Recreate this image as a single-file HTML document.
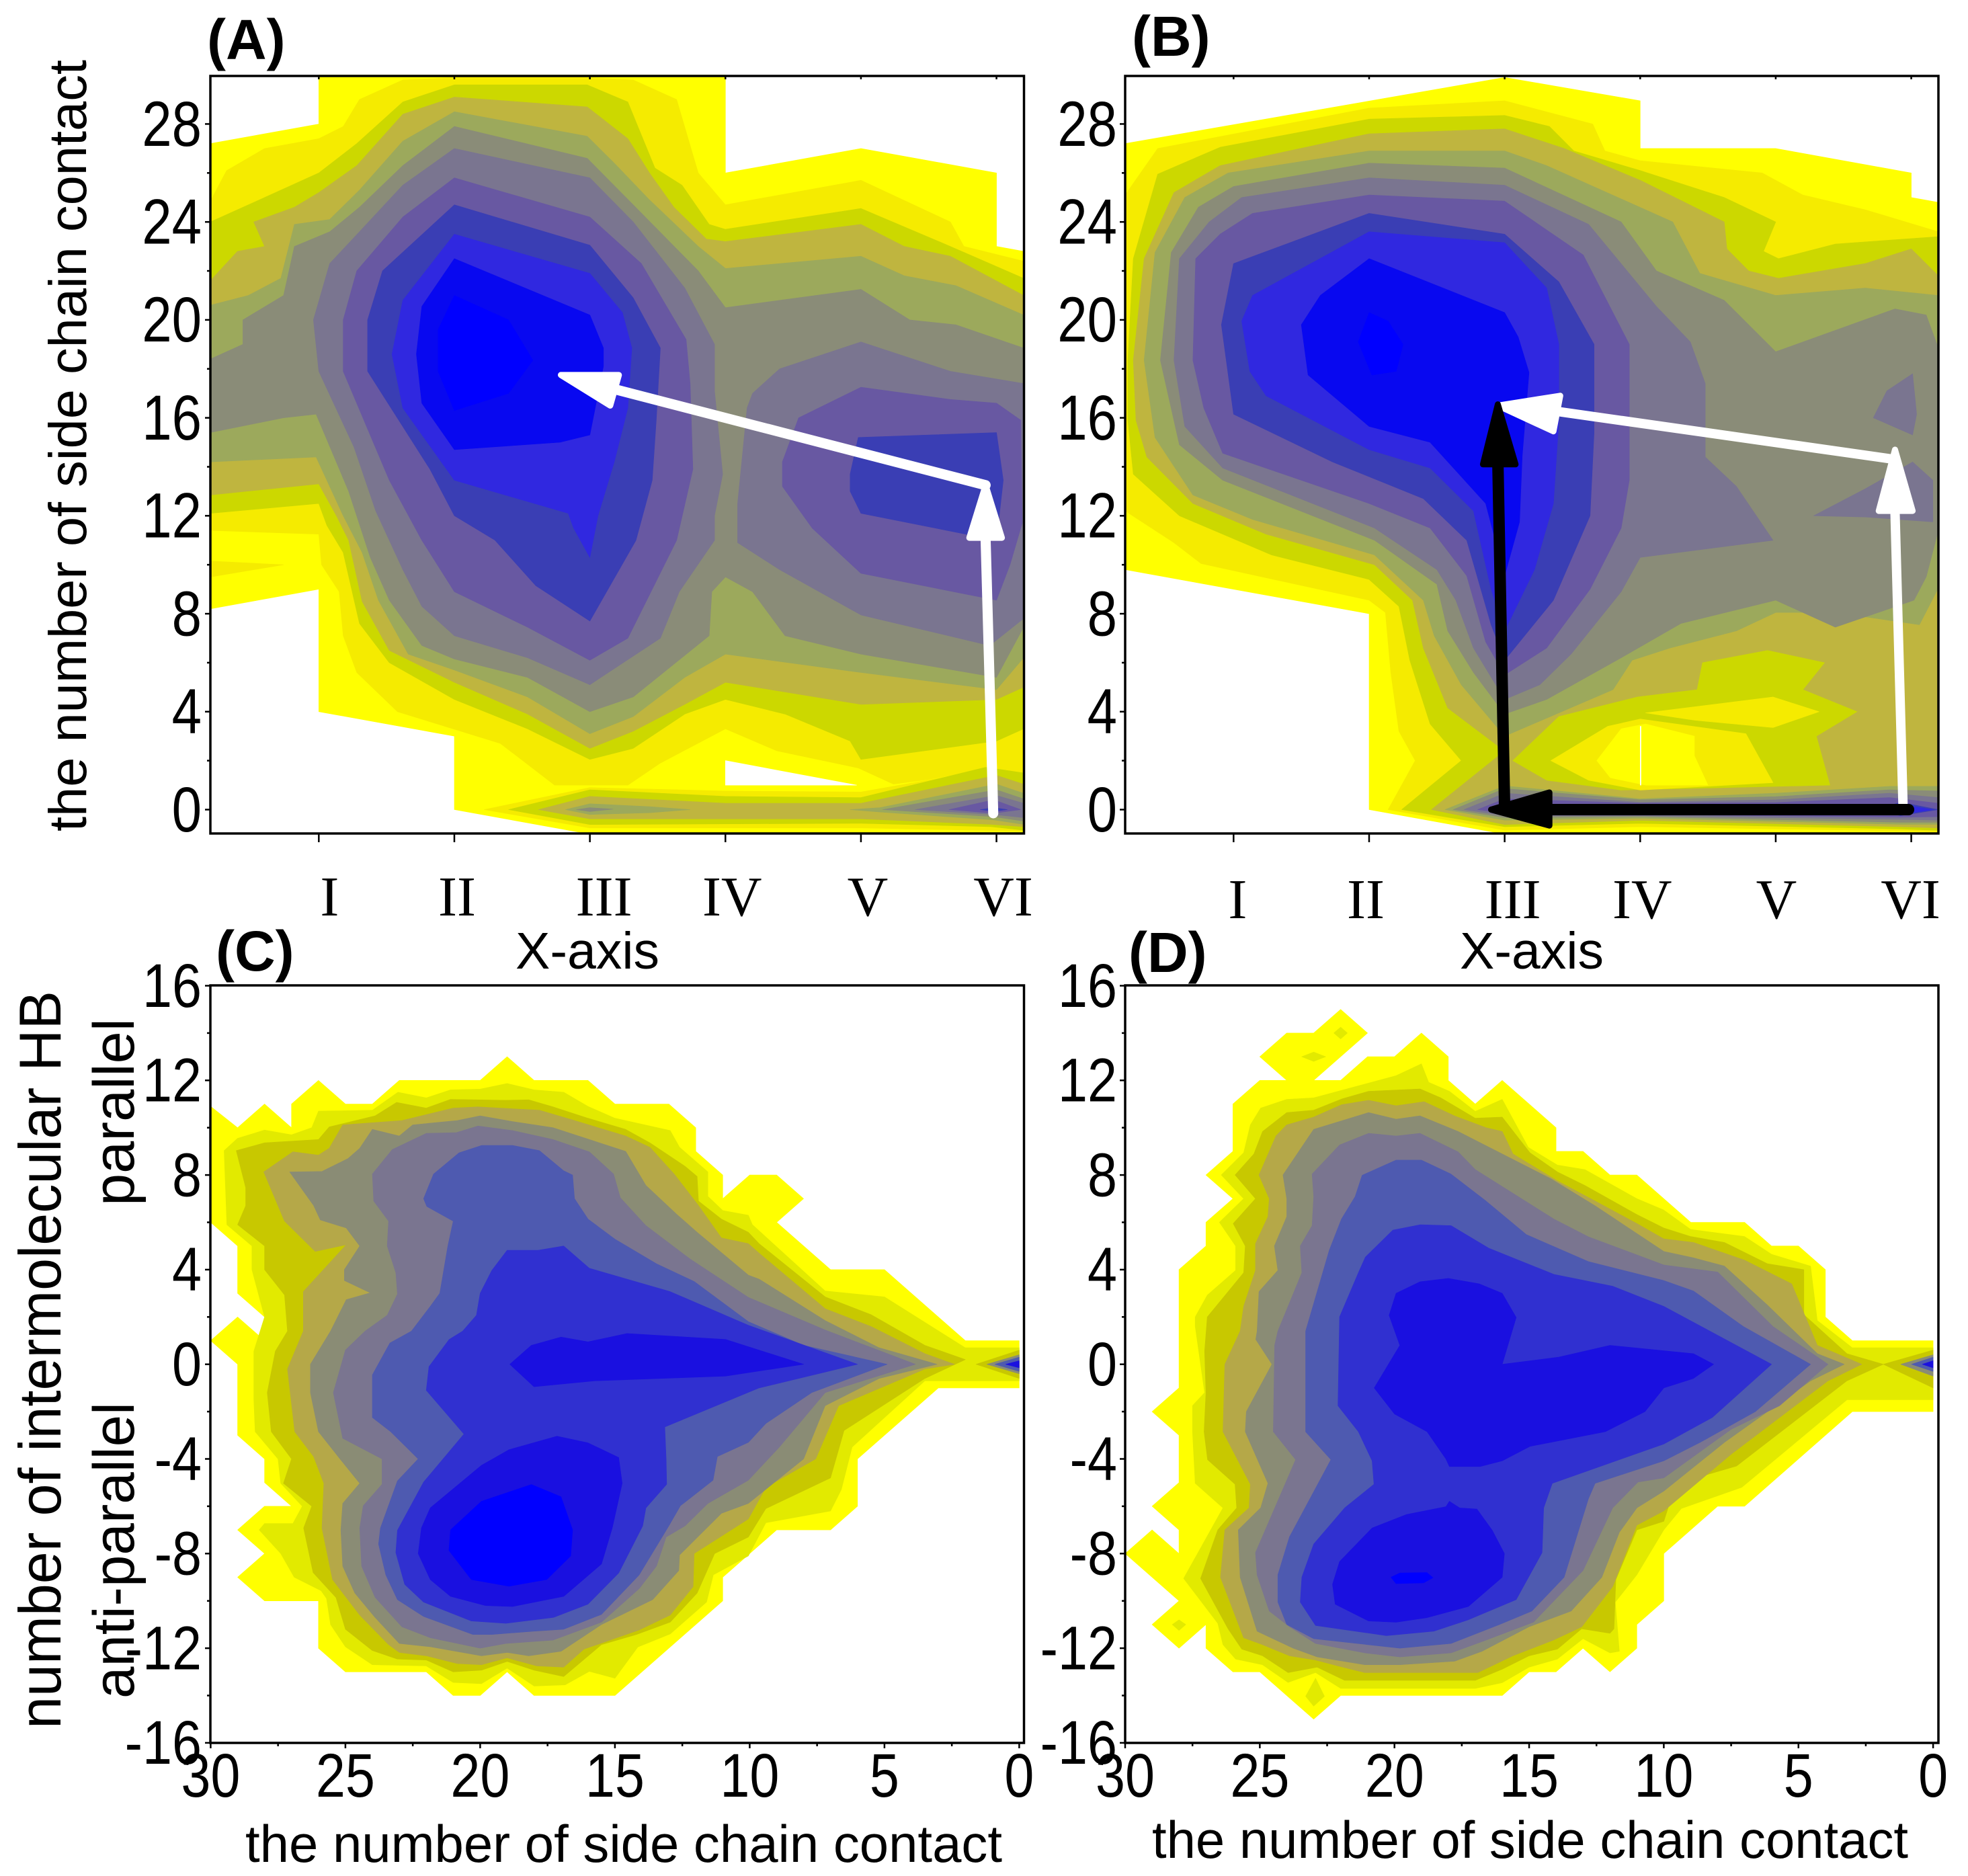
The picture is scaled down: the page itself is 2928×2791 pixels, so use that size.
<!DOCTYPE html>
<html lang="en">
<head>
<meta charset="utf-8">
<title>Contour panels A-D</title>
<style>
html,body{margin:0;padding:0;background:#fff}
svg{display:block}
text{font-family:"Liberation Sans",sans-serif;fill:#000}
</style>
</head>
<body>
<svg id="fig" xmlns="http://www.w3.org/2000/svg" width="2928" height="2791" viewBox="0 0 2928 2791"></svg>
<script>
const categories=['I','II','III','IV','V','VI'];
const yTicksTop=[0,4,8,12,16,20,24,28];
const yTicksBottom=[-16,-12,-8,-4,0,4,8,12,16];
const xTicksBottom=[30,25,20,15,10,5,0];
const palTop=['#ffff00','#f5eb00','#ccd800','#bfb53f','#9ca95c','#8a8c78','#7a7590','#6858a2','#3a3eb4','#3028e0','#0808f0','#0000ff'];
const palBottom=['#ffff00','#e2ea00','#c8c800','#b5a848','#8a8c75','#7a7590','#4e5ab0','#3030d0','#1a10e0','#0000ff'];

/* Panel A contour rings: flat x,y lists in data units */
const A0=[[0,27.2,4,28,4,30,19,30,19,26,24,27,29,26,29,23,30,22.8,30,-1,14,-1,9,0,9,3,4,4,4,9,0,8.2]];
const Ahole=[[19,2,23.84,1,19,1]];
const A1=[[0,24.85,.6,26.1,2,27,4,27.4,4.9,27.9,5.5,29,7.1,29.8,9,29.9,13.9,29.9,15.6,29.8,17.2,29,18,26,19,24.7,24,25.7,27.3,24,27.8,23,30,22.4,30,1.9,26.3,1.2,25.2,1.04,23.9,1.7,20.9,2.4,19,3.3,16.6,1.9,15.4,1,12.7,1,10.7,2.7,6.9,4,5.4,5.6,4.9,7.1,4.75,8.9,4.1,10,4,11.25,0,11.4],
[10.1,0,14,.9,19,.76,24,.72,30,1.9,30,-.88,24,-.75,14,-.75],
[0,10.15,2.7,10,0,9.5]];
const A2=[[0,24,2,25,4,26,5.4,27.2,7.1,28.9,9,29.6,13.9,29.6,15.4,28.9,16.4,26.2,17.4,25.5,18.4,23.9,19,23.7,24,24.55,27.3,23,30,21.7,30,3.3,29,2.8,24,2.05,23.6,2.8,21.2,3.9,19,4.5,17.5,3.9,15.6,2.5,14,2.05,11.7,3.3,9,4.5,6.6,6,5.5,7.6,4.9,10.5,4.3,11.6,4,12.5,0,12.1],
[11,0,14,.81,19,.54,24,.49,28.6,1.73,30,1.5,30,-.84,28.8,-.7,24,-.56,14,-.61]];
const A3=[[0,21.6,1,22.8,2,23,1.6,24,3.1,24.6,4,25.2,5.4,26.3,7.1,28.4,9,29.1,13.9,28.7,15.4,27.4,16.2,26,17.1,24.6,18.3,23.3,19,23.2,24,23.9,25.6,23,27.3,22.6,30,21,30,5,29,4.5,24,4.3,19,5.2,17.5,4.3,15.6,3.2,14,2.5,11.7,3.9,9,5.2,6.6,6.5,5.6,8.5,5.1,11,4.65,12,4,13.3,0,12.85],
[12.1,0,14,.54,19,.26,24,.26,29,1.4,30,1.04,30,-.7,28.8,-.6,24,-.38,14,-.38]];
const A4=[[0,20.6,1.4,21,2.6,21.7,3.1,23.9,4.4,24.1,5.5,25.3,7.1,27.3,9,28.5,13.9,27.5,14.9,26.4,16.2,24.9,18,23,19,22.1,24,22.6,25.6,21.8,27.5,21.4,30,20.2,30,6.2,29,4.9,24,5.6,19,6.35,17.5,5.4,15.6,3.8,14,3.1,11.7,4.6,9,5.7,7.3,6.35,6.2,8.55,5.6,10.5,4.9,12,3.9,14.4,0,14.2],
[13.1,0,14,.24,16.2,.12,17.7,0,16.2,-.13,14,-.2],
[23.6,0,24.7,.08,29,1.04,30,.67,30,-.6,28.9,-.42,24.7,-.1]];
const A5=[[0,18.4,1.2,19,1.2,20,2.7,21,3.1,23,4.4,23.6,5.5,24.6,7.1,26.3,9,27.9,13.9,26.6,15.6,24.7,18,22,19,20.5,24,21.25,25.8,20,27.5,19.8,30,18.85,30,7.45,29,5.4,24,6.35,21.2,7.1,20,8.9,19,9.5,18.5,8.9,18.4,7.1,15.6,4.6,14,4,11.7,5.4,9,6.15,7.8,6.7,6.6,8.55,5.9,10.3,5.1,13,3.9,16.15,2.7,16,0,15.4],
[13.5,0,14,.08,14.85,.02,14,-.08],
[24.8,0,29,.81,30,.44,30,-.47,28.9,-.29]];
const A6=[[3.8,20,4.4,22.3,5.5,23.6,7.1,25.5,9,27,14,25.8,15.6,24,17.5,21.3,18.6,19,18.6,17.1,18.9,13.7,18.6,12,18.6,11,17.3,8.9,16.6,7,14,5.1,11.7,6.2,9,7.1,7.8,8.3,7.1,9.8,6.1,12.2,5.3,14.8,4,17.9],
[19.8,16.4,20,17,21,18,24,19.1,27.3,17.9,30,17.4,30,7.8,28.75,6.7,24,7.95,21,9.8,19.45,10.9,19.45,12.5],
[26,0,29,.58,30,.26,30,-.33,28.9,-.2]];
const A7=[[4.9,20,5.4,22,7.1,24.2,9,25.8,14,24.2,15.9,22.3,17.55,19.2,17.7,17.4,17.8,13.9,17.2,11,15.4,7,14,6.1,11.7,7.45,9,8.9,7.8,11,6.6,13.45,4.9,17.9],
[21.1,13.2,21.1,14.2,21.7,16,24,17.25,27.3,16.75,29,16.6,29.9,15.9,29.95,11.7,29.5,10,29,8.55,24,9.65,22.2,11.5],
[27.25,0,28.9,.4,29.9,0,28.9,-.15]];
const A8=[[5.8,20,6.35,22,9,24.7,14,23.05,15.6,20.9,16.6,18.85,16.45,15.9,16.3,13.45,15.7,11,14,7.7,12,9.15,10.5,11,9,12,8.1,13.9,5.8,17.9],
[23.6,13.7,23.9,15.2,29,15.4,29.25,13.45,29,11,24,12.1,23.6,13],
[28.4,0,28.9,.08,29.4,0,28.9,-.07]];
const A9=[[6.7,18.6,7.1,20.8,9,23.5,14,21.9,15.2,20.3,15.55,18.85,15.4,16.4,14.9,14.2,14.3,12,14,10.3,13.4,11.5,13.2,12.1,9,13.45,7.1,16.4]];
const A10=[[7.6,18.6,7.8,20.55,9,22.5,14,20.2,14.5,18.85,14.5,18.1,14,15.3,12.9,15,9,14.7,7.8,16.6]];
const A11=[[8.4,19.6,9,21,11,20,11.9,18.35,11,17,9,16.3,8.4,17.9]];

/* Panel B contour rings */
const B0=[[0,27.2,14,29.9,19,28.95,19,27,24,27,29,26,29,25,30,24.8,30,-1,14,-1,9,0,9,8,0,9.8]];
const B1=[[0,25.1,1.2,27,9,28.65,14,28.95,17.25,28,17.7,26.9,19,26.5,23.5,26,25,25.1,27.3,24.5,30,23.6,30,-.9,28.6,-.87,19,-.7,14,-.84,9.7,0,10.7,2,10.1,3.2,9.8,5.6,9.6,8.05,9,8.55,2.8,10.05,1.8,10.9,0,12.2]];
const B2=[[.1,18.35,.3,22.5,1.2,25.95,3.5,27.05,9,28.2,14,28.35,15.65,27.9,16.55,26.9,19,26.1,22.1,25,24,24,23.55,22.8,24.1,22.5,26.2,23.1,30,23.4,30,-.85,28.6,-.79,19,-.56,14,-.7,10.2,0,12.4,2,11.25,3.5,10.5,6.1,10.1,8.3,9,9.4,5.4,10.4,2,12,.3,13.7,.1,15.9]];
const B3=[[.3,18.35,.7,22.5,1.8,25.2,3.5,26.3,9,27.6,14,27.8,16.2,27,19,25.7,22.1,24,22.2,22.9,23,22,24.1,21.7,27.3,22.3,29,22.9,30,21.8,30,-.75,28.6,-.7,19,-.44,14,-.61,11.3,0,14,2.4,11.9,4.15,11,6.6,10.6,8.55,9.2,10,5.2,11.25,2.5,12.5,.8,14.4,.4,15.9]];
const Bisland2=[[14.3,2,16,3.8,18.9,4.6,21.1,4.9,21.3,6,23.7,6.5,25.8,6,25,4.9,27,4,25.5,3,26,1,18.3,.8,15.55,1.2]];
const Bisland1=[[15.7,2,17.8,3.4,19,3.7,22.9,3.1,23.9,1.1,19,.8,17.1,1.2],[19.2,3.95,23.9,4.6,25.6,4,23.9,3.35,21,3.65]];
const Bisland0=[[17.4,2,18.3,3.3,19.2,3.5,21,3,21,2.2,21.5,1,19.2,1,17.9,1.3]];
const Bhairline=[[19,3.4,19.03,3.4,19.03,1,19,1]];
const B4=[[.7,18.35,1.1,22.75,2.2,25,3.8,26,9,26.9,14,26.9,15.55,26.3,20.2,24,21.2,21.9,24,21,27.3,21.3,30,21,30,9.05,29.3,7.55,26.2,8.05,24,8.05,22.55,7.3,20.1,6.6,18.7,6.1,18,4.9,14,3,12.4,5.1,11.4,7.1,11,8.55,9.2,10.4,4.7,11.85,2.5,12.85,1.1,15.2],
[11.8,0,14,.97,19,.44,24,.67,28.2,.95,30,.95,30,-.6,28.6,-.6,19,-.35,14,-.43]];
const B5=[[1.3,18.35,1.7,22.75,2.7,24.6,4,25.45,9,26.4,14,26.2,18.3,24,19.6,22,22.1,20.8,24,18.7,28.4,20.45,29.55,20.2,30,18.85,30,11.4,29.55,9.5,29.1,8.55,26.2,7.45,24,8.55,20.5,7.6,18.3,6.2,15.55,4.5,14,3.9,12.85,5.6,11.9,7.3,11.5,9.2,9.2,11,3.6,13.45,2,14.9],
[12.1,0,14,.86,19,.4,24,.53,28.2,.81,30,.76,30,-.52,28.6,-.52,19,-.29,14,-.33]];
const B6=[[1.8,18.35,2,22.5,3.1,24,4.3,25,9,25.8,14,25.5,17.1,23.9,19.6,20.55,20.85,19.1,21.4,17.4,21.4,14.4,22.55,13.2,23.9,11,19,10.3,18.3,8.9,16.45,6.35,15.3,5.1,14,4.5,12.85,6.6,12.2,8.55,11.5,9.8,9.2,11.5,3.6,13.95,2.2,15.65],
[27.6,16,28.1,17.1,29.05,17.8,29.2,16.15,29.05,15.3],
[25.4,12,27.3,13.1,29.05,14.2,29.8,13.45,29.8,11.75,27.3,11.95],
[12.5,0,14,.67,19,.3,24,.4,28.2,.67,30,.49,30,-.43,28.6,-.4,19,-.25,14,-.25]];
const B7=[[2.5,18.35,2.6,22.5,3.5,23.5,4.7,24.35,9,25.1,14,24.85,16.9,22.65,18.6,19,18.6,13.45,18.3,11.5,17.15,9,15.55,6.6,14,5.5,13.3,6.85,12.6,9.55,11.25,11.5,9,12.5,3.6,14.55,2.9,16.4],
[13,0,14,.44,19,.26,24,.29,28.2,.49,30,.26,30,-.29,28.6,-.31,19,-.2,14,-.15]];
const B8=[[3.55,19.8,4,22.3,9,24.35,14,23.5,16,21.55,17.3,19,17.3,15.4,17.15,12,15.8,8.55,14,6.1,13.5,7.55,12.6,11,11,12.7,7.65,14.2,4,16.15],
[27.7,0,28.6,.3,30,0,28.6,-.25]];
const B9=[[4.3,19.95,4.7,21,9,23.6,14,23.15,15.55,21.3,16,19,16,15.9,15.8,12.5,15.1,9.8,14,7.3,13.5,9,12.85,12.2,11.25,13.95,9,14.7,5.2,16.9,4.6,17.9],
[28.85,0,29.1,.12,29.8,0,29.1,-.12]];
const B10=[[6.5,19.8,7.2,21,9,22.5,14,20.3,14.5,19.3,14.9,17.85,14.65,14.45,14.55,11.75,14,9.55,13.3,12.5,11.25,15,9,15.65,6.75,17.75]];
const B11=[[8.6,19.1,9,20.3,9.7,19.95,10.25,19,10,17.9,9.1,17.75]];

/* Panel C contour rings */
const C0=[[30,10.9,29,10,28,11,27,10,27,11,26,12,25,11,24,11,23,12,20,12,19,13,18,12,16,12,15,11,13,11,12,10,12,9,11,8,11,7,10,8,9,8,8,7,9,6,7,4,5,4,2,1,0,1,0,-1,3,-1,6,-4,6,-6,7,-7,9,-7,11,-9,11,-10,15,-14,18,-14,19,-13,20,-14,21,-14,22,-13,25,-13,26,-12,26,-10,28,-10,29,-9,28,-8,29,-7,28,-6,27,-6,28,-5,28,-4,29,-3,29,0,30,1,29,2,28,1,28,2,29,3,29,5,30,6]];
const C1=[[29.5,9.03,29,9.55,28,9.9,27,9.7,26.25,10,26,10.7,24,10.74,23.05,11.5,22,11.26,21.1,11.6,20,11.63,19,11.87,18,11.6,16.9,11.5,16,10.9,15,10.4,12.95,9.88,12.6,9.17,11.55,8.13,11.55,7.1,11,6.5,10.05,6.3,9.9,5.9,7.2,3.1,5,2.85,2,.7,0,.7,0,-.7,3.5,-.7,6.2,-3.5,6.6,-5.3,7,-6.2,9.4,-6.7,10.05,-8.1,11.35,-8.9,11.6,-10.05,12.95,-11.4,14.15,-11.95,15,-13.27,15.95,-12.98,16.85,-13.55,18,-13.6,19,-12.84,19.95,-13.5,21,-13.45,22,-12.75,24,-12.7,25,-11.94,25.55,-11,25.7,-9.9,25.9,-9.57,26.9,-9,27.4,-8,28.2,-7,28,-6.73,26.95,-6.73,26.6,-6,27.4,-5.03,27.5,-4,28.35,-2.85,28.4,-1.5,28.4,.55,28,2,28.47,4,28.47,5,29.4,5.9]];
const C2=[[29.05,9.03,28,9.36,26,9.5,25.6,10.03,23.9,10.5,23.1,11.07,22,10.83,21.1,11.2,19.05,11.16,18.2,11.18,17.3,10.88,16,10.4,14.6,9.93,13.7,9.36,12.4,8.37,11.95,7.94,11.9,6.9,11.05,6.14,10.05,5.58,9.65,5.1,7.2,2.85,5.5,2.1,3.5,.8,2,.2,3.5,-.6,6.5,-2.8,7,-4.8,9.4,-6.1,10.05,-7.3,11.3,-8,11.95,-9.67,12.95,-10.9,14.2,-11.42,15.5,-11.85,16.9,-13.2,18,-12.93,19,-12.56,19.95,-12.93,21,-13,22,-12.5,23.07,-12.46,24,-12.1,25,-11.2,25.35,-9.86,26.2,-8.8,26.55,-6.92,26.25,-6,27.3,-5.03,27,-4,27.75,-2.85,27.9,-1.2,27.6,.55,27.15,1.4,27.26,2.93,28,4,28,5,29,5.9,28.7,6.7,28.7,7.47],
[1.6,0,0,.6,0,-.6]];
const C3=[[28.03,8.13,26.95,8.98,26,8.84,25.6,9.13,25.1,10.12,22.9,10.3,21,10.83,20.1,10.88,17.8,10.74,16.5,10.3,14.6,9.65,13.7,9.17,12.8,8.04,11.9,6.71,11.05,5.34,10.05,5.1,9.65,4.7,7.2,2.35,5.5,1.6,3.5,.45,2.4,0,3.5,-.2,6.7,-1.75,7.55,-4,9.4,-5.2,10.05,-6.54,12.06,-8,12.1,-9.4,12.95,-10.6,14.1,-11.23,16.15,-12.04,16.9,-12.8,17.9,-12.75,19,-12.41,19.95,-12.7,20.85,-12.65,22,-12.32,23,-12.18,23.4,-11.85,24.47,-10.6,25.48,-9.1,25.87,-6.92,25.8,-5.03,26.18,-3.9,26.88,-2.85,27.15,-.2,26.56,1.4,26.56,3.07,24.97,5.05,26.12,4.77,27.26,6.05]];
const C4=[[27.07,8.13,25.87,8.15,24.9,8.7,24.47,9.13,24,9.93,23,9.65,22.5,10.12,20.85,10.3,20,10.5,18.8,10.26,17.3,10,14.6,9,13.85,7.56,12.7,6.33,11.95,5.58,10.05,3.77,9.65,3.6,7.2,1.85,5.2,.7,3.05,0,5.2,-.6,7.2,-1.75,8,-4,10.05,-5.88,11.05,-6.3,12.6,-8.06,12.63,-8.72,13.6,-9.95,15.5,-11,17,-12.13,18.2,-12.32,19,-12.18,19.95,-12.32,21.85,-11.94,23,-11.8,23.9,-10.7,24.65,-9.67,25.1,-8.53,25.17,-7,25.1,-5.88,24.47,-5.03,25.2,-4,26,-2.85,26.3,-1.2,26.3,0,25.55,1.4,24.97,2.73,24.08,3.02,25.04,3.54,25.04,4,24.47,5,24.97,5.76,25.93,6.1,26.18,6.71],
[1.2,0,0,.4,0,-.4]];
const C5=[[24,8.04,23.26,9.08,22,9.76,20.9,9.79,20.08,10.07,18.8,9.88,17.3,9.5,15.95,8.98,15.05,8.04,14.8,7.04,13.85,5.86,12.2,4.44,10.05,2.83,7.2,1.45,3.85,0,7.2,-1.2,8.9,-3.5,10.05,-4.9,11.55,-5.88,12.4,-6.83,13.1,-7.3,13.46,-8.53,14.1,-9.48,15.5,-10.9,17.3,-11.66,19.05,-11.8,20,-12,21.85,-11.56,22.9,-11.1,23.9,-9.85,24.4,-8.53,24.47,-6.92,24.34,-5.98,23.64,-5.07,23.64,-4,25.1,-3.13,25.45,-1.2,25,.6,24.27,1.4,23.45,2.07,23.07,2.97,23.13,3.87,23.45,5,23.4,6.05,23.95,6.9]];
const C6=[[22.1,7,21.73,8.04,20.78,8.94,19.95,9.25,18.8,9.25,17.8,9.03,16.9,8.18,16.57,8,16.5,7,16,6.14,15,5.29,13.46,4.25,12.06,3.5,10.05,1.8,8,.8,4.9,0,7.7,-1.2,9.4,-2.5,10.05,-3.3,11.2,-3.9,11.36,-4.9,12.57,-5.98,13,-6.83,14.1,-8.9,15.5,-10.57,16.9,-11.2,18,-11.28,19.57,-11.42,20.27,-11.42,22.1,-10.66,23.07,-9.95,23.5,-8.9,23.77,-7.6,23.7,-6.92,23.07,-4.93,22.3,-4,23.32,-2.85,24,-2.25,24,-.45,23.35,.9,22.55,1.4,21.85,2.45,21.5,3,21.2,5,21,6.05,21.98,6.67],
[.9,0,0,.3,0,-.3]];
const C7=[[20.65,1.4,20.14,2.07,20,3,19.57,3.96,19,4.82,17.85,4.82,16.9,5,15.95,4.06,12.95,3.07,10.05,1.65,6,0,9.65,-1,13.15,-2.65,13.1,-4,13.08,-5.07,13.85,-6.07,13.97,-6.83,14.86,-8.82,16,-10.14,17.28,-10.7,19.05,-10.95,20.33,-10.85,22.1,-10.05,22.8,-9.3,23.13,-7.96,23.07,-7.02,22.1,-4.98,20.6,-2.95,22,-1.1,21.9,-.1,21.15,1.05]];
const C8=[[18.9,0,18.1,.8,17,1.15,16,.95,14.55,1.3,10.9,1.05,8,0,10.9,-.5,15.75,-.7,18,-.95],
[22.3,-8,22.18,-6.92,21.85,-6.07,19.95,-4.27,18.93,-3.61,17.15,-3.04,16,-3.32,14.86,-3.94,14.73,-5.03,15.1,-6.92,15.5,-8.44,16.9,-9.81,18.8,-10.24,19.8,-10.2,21.1,-9.81,21.85,-9.1],
[.5,0,0,.15,0,-.15]];
const C9=[[21.16,-7.87,21.1,-7,19.95,-5.79,18.1,-5.08,17,-5.6,16.57,-7,16.64,-8.1,17.53,-9.1,18.93,-9.38,20.33,-9.1]];

/* Panel D contour rings */
const D0=[[26,11,25,12,24,12,25,13,24,14,23,14,22,15,21,14,23,12,22,12,21,13,20,13,19,14,18,13,18,12,17,11,16,12,14,10,14,9,13,9,12,8,11,8,9,6,7,6,6,5,5,5,4,4,4,2,3,1,0,1,0,-2,3,-2,7,-6,8,-6,10,-8,10,-10,11,-11,11,-12,12,-13,13,-12,14,-13,15,-13,16,-14,22,-14,23,-15,24,-14,25,-13,26,-13,27,-12,27,-11,28,-12,29,-11,28,-10,30,-8,29,-7,28,-8,28,-7,29,-6,28,-5,28,-3,29,-2,28,-1,28,4,27,5,27,6,26,7,27,8,26,9]];
const D1=[[25.35,10.12,24.97,10.83,24,11.2,23,11.26,19.94,12.2,19,12.7,18.73,11.92,17.96,11.54,17,10.69,16,11.2,15.03,9.17,13.95,8.42,12.93,8.23,11,7,10,6.52,9,5.7,7,5.4,6,4.65,4.55,4.15,4.3,1.85,3,.7,0,.7,0,-1.5,3.2,-1.5,7.1,-5.2,9.35,-6.1,10,-7,11,-8.9,11.8,-10.05,11.65,-12.13,12,-12.2,13,-11.6,13.95,-12.46,15,-12.8,16,-13.46,17,-13.7,22,-13.7,22.93,-13.03,23.95,-13.45,24.9,-12.7,25.9,-12.46,26.37,-11.85,26.56,-10.95,27.83,-9.05,26.37,-6.07,27.4,-5.03,27.5,-2.85,27.5,-1.75,27.05,-1.2,27.4,1.6,27.4,2,26.95,2.92,25.9,3.97,25.9,5,26.5,6,25.6,7,26.43,8,25.6,8.94],
[23.45,13,23,13.2,22.55,13,23,12.8],[22.25,14,22,14.25,21.75,14,22,13.75],[28.25,-11,28,-10.8,27.75,-11,28,-11.25],[23.3,-14.03,22.93,-13.27,22.6,-14.03,23,-14.45]];
const D2=[[24.9,9.84,24,10.64,23,10.74,21.97,11.21,20.96,11.54,19.05,11.64,18.28,11.26,17,10.4,16,10.45,14.97,8.94,13.95,8.13,12.93,7.56,11,6.33,10,5.76,9,5.4,7.75,5.15,6.15,4.25,4.8,4,4.8,2.1,3.2,.45,1.85,0,3.2,-.7,7.3,-4.3,9.55,-5.05,10,-6.64,11,-7,11.78,-9.1,11.85,-11.18,12,-11.37,13.05,-11.18,13.95,-12.04,15,-12.32,16,-12.89,17,-13.36,21.85,-13.36,22.87,-12.8,23.95,-13.03,24.9,-12.32,25.67,-12.04,26.18,-11.18,27.2,-9.05,26.56,-7,25.86,-6.07,25.92,-5.07,26.94,-4.03,27.07,-2.85,27,-1.2,27.05,.55,26.95,2,25.6,3.87,25.54,5,25.99,5.95,25.16,7,25.92,8,25.22,8.89],
[1.85,0,0,.6,0,-1]];
const D3=[[25.03,8,24.4,9.65,24,10.12,23,10.45,21.97,10.97,20.96,11.16,19.94,10.93,18.9,11.1,17.77,10.5,16.6,10,16,9.84,15.6,8.89,13.95,7.75,12.55,6.9,11,5.95,10,5.3,8.9,5.15,7,4.4,5.25,3.4,4.3,.8,2.65,0,3.9,-.7,7.5,-3.8,10,-6.2,11,-6.8,11.9,-9.4,13.05,-11.1,14.1,-11.66,15.6,-12.32,16.9,-13.03,21.1,-13.03,22.1,-12.75,22.93,-12.5,23.9,-12.32,24.9,-11.85,25.6,-11.56,26.46,-9,26.3,-7,25.4,-6.07,25.35,-5.07,26.37,-2.85,26.3,0,25.73,1.4,25.6,2.45,25.16,3.97,25.16,5.1,24.7,6.24,24.65,7]];
const D4=[[24.14,8,23,9.93,20.96,10.64,19.94,10.36,19.05,10.5,17.64,9.84,16,8.89,14.2,7.85,12.55,6.7,10,4.77,8.9,4.5,7.75,4.15,6.15,2.5,4.3,.45,3.3,0,4.55,-.7,7.75,-3.3,10,-5.36,11,-6.07,11.65,-7.1,12.3,-9,13.44,-10.43,15,-11.09,16.75,-12.13,17.77,-12.55,19.8,-12.7,21.1,-12.7,22.87,-12.37,23.76,-12,25.1,-11.28,25.73,-9,25.8,-7,24.97,-6.07,24.7,-5.03,25.54,-2.85,25.5,-2,24.55,0,25.15,1.05,25.1,1.4,25.03,3.07,24.33,3.97,24.46,5,24,6.24,24,7],
[1.2,0,0,.4,0,-.5]];
const D5=[[23.06,8.04,22.04,9.27,20.96,9.76,19.94,9.65,19.05,9.76,17.64,8.98,17,8.23,14.08,6.14,12.8,5.39,10,4.2,8,3.9,5.95,1.6,3.9,0,5.7,-1.75,7.5,-2.75,10,-4.8,10.96,-4.98,11.9,-6.07,13,-8.72,14.84,-10.9,16.6,-11.66,17.9,-12.2,19.8,-12.37,21.1,-12.2,22.93,-11.8,23.9,-11.09,24.65,-10.43,25.1,-8.9,25.16,-7.96,23.67,-4.03,24.5,-2.85,24.45,.8,24.33,1.4,23.44,3.87,23.5,5,23.06,5.86,23,7.09]];
const D6=[[21.46,7.09,21.2,7.99,19.94,8.63,19,8.63,17.9,8.04,16.6,6.9,15.1,5.48,12.8,4.34,10,3.54,8.9,3.1,7.05,1.6,4.55,0,6.6,-2,8.65,-3.3,10,-4.08,12.55,-5.03,12.8,-5.69,13.7,-9,14.9,-10.43,16.1,-11,17.9,-11.8,19.8,-12,23,-11.6,24,-11,24.33,-10.05,24.33,-8.9,23.9,-7.3,22.36,-4.03,23.3,-2.85,23.3,1.4,22.42,4.82,21.97,6.14],
[.8,0,0,.3,0,-.3]];
const D7=[[22.04,2,21.34,3.87,21.08,4.53,20.06,5.67,19.04,5.9,17.9,5.86,16.5,4.91,14.08,3.8,11.9,3.3,10,2.45,6,0,8.2,-2.25,10,-3.37,14.14,-5.03,14.46,-6.07,14.52,-7.96,15.48,-9.95,17.26,-10.8,18.54,-11.28,20.3,-11.47,22.93,-11.04,23.5,-10.05,23.44,-9,23,-7.6,21.85,-6.07,20.76,-5.07,20.83,-4.08,21.34,-2.85,22.1,-1.75]];
const D8=[[20.2,2.07,19.94,3,19.05,3.49,18,3.63,16.85,3.4,16,3,15.48,1.98,16,0,13.9,.3,12,.8,8.9,.45,8.15,0,8.9,-.6,10,-1,10.7,-2,12.17,-2.85,14.97,-3.47,16,-4.08,16.82,-4.32,17.96,-4.32,18.09,-4,18.79,-2.85,20,-2.1,20.75,-1,19.8,.8],
[22.3,-9.3,22.04,-8.34,20.83,-6.92,19.55,-6.35,18.09,-6.02,17.96,-5.79,17.58,-6.07,16.94,-6.12,16.37,-7.02,15.92,-8,16,-9,17.26,-10.24,18.8,-10.71,19.94,-10.9,20.96,-10.85,22.2,-10.14],
[.4,0,0,.15,0,-.15]];
const D9=[[20.13,-9,19.8,-8.82,18.8,-8.8,18.57,-9.02,18.92,-9.24,19.94,-9.27]];

/* Pathway arrows in data units */
const arrowShaftsA=[[28.88,-.15,28.6,11],[28.6,13.25,14.8,17.2]];
const arrowHeadsA=[[28.6,13.25,29.2,11.1,28,11.1],[12.93,17.75,15.07,17.75,14.75,16.5]];
const arrowShaftsBWhite=[[28.7,0,28.4,12.2],[28.4,14.3,15.7,16.3]];
const arrowHeadsBWhite=[[28.4,14.7,29.05,12.2,27.8,12.2],[13.75,16.5,16.05,16.9,15.8,15.45]];
const arrowShaftsBBlack=[[28.9,0,15.55,0],[14,0,13.75,14.2]];
const arrowHeadsBBlack=[[13.5,0,15.65,.7,15.65,-.65],[13.75,16.55,14.4,14.1,13.2,14.1]];

const labelNudgeA=[16,4,21,10,10,10];
const labelNudgeB=[6,-5,12,3,1,-1];

const NS='http://www.w3.org/2000/svg';
const svg=document.getElementById('fig');
function mk(tag,attrs,parent,txt){
  const el=document.createElementNS(NS,tag);
  for(const k in attrs)el.setAttribute(k,attrs[k]);
  if(txt!==undefined)el.textContent=txt;
  (parent||svg).appendChild(el);
  return el;
}
const top0=112,top1=1241,bot0=1466,bot1=2593;
const yTop=v=>1204.5-v*36.43;
const yBot=v=>2029.7-v*35.2;
const xA=v=>313+v*40.33;
const xB=v=>1674+v*40.33;
const xC=v=>313.4+(30-v)*40.1;
const xD=v=>1674+(30-v)*40.07;

function drawRings(g,rings,color,sx,sy){
  rings.forEach(r=>{
    const pts=[];
    for(let i=0;i<r.length;i+=2)pts.push(sx(r[i]).toFixed(1)+','+sy(r[i+1]).toFixed(1));
    const el=mk('polygon',{points:pts.join(' '),fill:color,stroke:color,'stroke-width':'.6','stroke-linejoin':'round'},g);
    
    
  });
}
function drawLayers(name,layers,pal,sx,sy){
  const g=mk('g',{});
  
  
  layers.forEach(l=>drawRings(g,l[0],l[1]<0?'#ffffff':pal[l[1]],sx,sy));
}
function drawFrame(name,x0,x1,y0,y1){
  const el=mk('rect',{x:x0,y:y0,width:x1-x0,height:y1-y0,fill:'none',stroke:'#000','stroke-width':3.5});
  
  
}
function tickLine(x1,y1,x2,y2){
  const el=mk('line',{x1:x1,y1:y1,x2:x2,y2:y2,stroke:'#000','stroke-width':2.5});
  
  
}
function yAxis(ticks,sy,x0,rightEdge,size,sxScale){
  ticks.forEach((v,i)=>{
    tickLine(x0-8,sy(v),x0,sy(v));
    if(i<ticks.length-1){const m=(v+ticks[i+1])/2;tickLine(x0-5,sy(m),x0,sy(m));}
    const el=mk('text',{transform:'translate('+rightEdge+','+(sy(v)+size*.34)+') scale('+sxScale+',1)','text-anchor':'end','font-size':size},svg,String(v));
    
    
  });
}
function xAxisCats(sx,y0,nudge,baseline){
  categories.forEach((c,i)=>{
    const p=4+5*i;
    tickLine(sx(p),y0,sx(p),y0+12);
    tickLine(sx(p),top0,sx(p),top0+6);
    const el=mk('text',{x:sx(p)+nudge[i],y:baseline,'text-anchor':'middle','font-size':84,style:'font-family:"Liberation Serif",serif'},svg,c);
    
    
  });
}
function xAxisNum(sx,y0,baseline){
  xTicksBottom.forEach((v,i)=>{
    tickLine(sx(v),y0,sx(v),y0+8);
    if(i<xTicksBottom.length-1){const m=v-2.5;tickLine(sx(m),y0,sx(m),y0+5);}
    const el=mk('text',{transform:'translate('+sx(v)+','+baseline+') scale(.86,1)','text-anchor':'middle','font-size':92},svg,String(v));
    
    
  });
}
function arrows(name,shafts,heads,color,sx,sy,w){
  const g=mk('g',{});
  
  
  shafts.forEach(s=>{
    const el=mk('line',{x1:sx(s[0]),y1:sy(s[1]),x2:sx(s[2]),y2:sy(s[3]),stroke:color,'stroke-width':w,'stroke-linecap':'round'},g);
    
    
  });
  heads.forEach(h=>{
    const p=[sx(h[0]),sy(h[1]),sx(h[2]),sy(h[3]),sx(h[4]),sy(h[5])].map(n=>n.toFixed(1));
    const el=mk('polygon',{points:p[0]+','+p[1]+' '+p[2]+','+p[3]+' '+p[4]+','+p[5],fill:color,stroke:color,'stroke-width':9,'stroke-linejoin':'round'},g);
    
    
  });
}
function label(name,txt,attrs){
  const el=mk('text',attrs,svg,txt);
  
  
}

/* contours */
drawLayers('panel-a-contours',[[A0,0],[Ahole,-1],[A1,1],[A2,2],[A3,3],[A4,4],[A5,5],[A6,6],[A7,7],[A8,8],[A9,9],[A10,10],[A11,11]],palTop,xA,yTop);
drawLayers('panel-b-contours',[[B0,0],[B1,1],[B2,2],[B3,3],[Bisland2,2],[Bisland1,1],[Bisland0,0],[Bhairline,-1],[B4,4],[B5,5],[B6,6],[B7,7],[B8,8],[B9,9],[B10,10],[B11,11]],palTop,xB,yTop);
drawLayers('panel-c-contours',[[C0,0],[C1,1],[C2,2],[C3,3],[C4,4],[C5,5],[C6,6],[C7,7],[C8,8],[C9,9]],palBottom,xC,yBot);
drawLayers('panel-d-contours',[[D0,0],[D1,1],[D2,2],[D3,3],[D4,4],[D5,5],[D6,6],[D7,7],[D8,8],[D9,9]],palBottom,xD,yBot);

/* frames */
drawFrame('panel-a-frame',313,1523.5,top0+1,top1-1);
drawFrame('panel-b-frame',1674,2884,top0+1,top1-1);
drawFrame('panel-c-frame',313,1523.5,bot0,bot1);
drawFrame('panel-d-frame',1674,2884,bot0,bot1);

/* axes */
yAxis(yTicksTop,yTop,313,300,95,.84);
yAxis(yTicksTop,yTop,1674,1662,95,.84);
yAxis(yTicksBottom,yBot,313,300,92,.86);
yAxis(yTicksBottom,yBot,1674,1662,92,.86);
xAxisCats(xA,top1,labelNudgeA,1362);
xAxisCats(xB,top1,labelNudgeB,1366);
xAxisNum(xC,bot1,2673);
xAxisNum(xD,bot1,2673);

/* arrows */
arrows('panel-a-white-arrows',arrowShaftsA,arrowHeadsA,'#fff',xA,yTop,15);
arrows('panel-b-white-arrows',arrowShaftsBWhite,arrowHeadsBWhite,'#fff',xB,yTop,14);
arrows('panel-b-black-arrows',arrowShaftsBBlack,arrowHeadsBBlack,'#000',xB,yTop,17);

/* titles and panel letters */
label('panel-a-label','(A)',{x:308,y:88,'font-size':84,'font-weight':'bold'});
label('panel-b-label','(B)',{x:1684,y:83,'font-size':84,'font-weight':'bold'});
label('panel-c-label','(C)',{x:321,y:1444,'font-size':84,'font-weight':'bold'});
label('panel-d-label','(D)',{x:1679,y:1446,'font-size':84,'font-weight':'bold'});
label('panel-c-x-heading','X-axis',{x:874,y:1441,'text-anchor':'middle','font-size':77});
label('panel-d-x-heading','X-axis',{x:2279,y:1441,'text-anchor':'middle','font-size':77});
label('panel-a-y-title','the number of side chain contact',{transform:'translate(128,1237) rotate(-90)','font-size':79,textLength:1148,lengthAdjust:'spacingAndGlyphs'});
label('panel-c-y-title','number of intermolecular HB',{transform:'translate(90,2572) rotate(-90)','font-size':88,textLength:1098,lengthAdjust:'spacingAndGlyphs'});
label('panel-c-y-parallel','parallel',{transform:'translate(199,1794) rotate(-90)','font-size':86,textLength:279,lengthAdjust:'spacingAndGlyphs'});
label('panel-c-y-anti-parallel','anti-parallel',{transform:'translate(199,2527) rotate(-90)','font-size':86,textLength:441,lengthAdjust:'spacingAndGlyphs'});
label('panel-c-x-title','the number of side chain contact',{x:365,y:2770,'font-size':78,textLength:1126,lengthAdjust:'spacingAndGlyphs'});
label('panel-d-x-title','the number of side chain contact',{x:1714,y:2764,'font-size':78,textLength:1125,lengthAdjust:'spacingAndGlyphs'});
</script>
</body>
</html>
